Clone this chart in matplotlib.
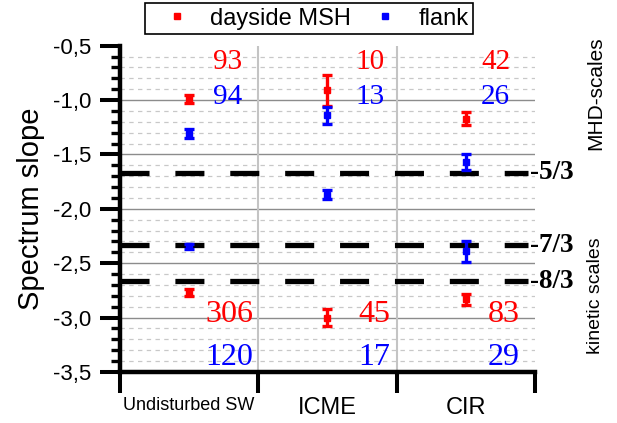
import matplotlib
matplotlib.use("Agg")
import matplotlib.pyplot as plt
from matplotlib.ticker import MultipleLocator, FixedLocator, FuncFormatter
from matplotlib.lines import Line2D

# --- data -------------------------------------------------------------
categories = ["Undisturbed SW", "ICME", "CIR"]

# MHD-scale spectral slopes
msh_mhd = [-0.99, -0.91, -1.17]
msh_mhd_err = [0.035, 0.14, 0.06]
flank_mhd = [-1.31, -1.14, -1.57]
flank_mhd_err = [0.04, 0.08, 0.07]

# kinetic-scale spectral slopes
msh_kin = [-2.77, -3.00, -2.83]
msh_kin_err = [0.03, 0.08, 0.05]
flank_kin = [-2.345, -1.87, -2.39]
flank_kin_err = [0.02, 0.04, 0.095]

# number of events in each group
n_msh_mhd = [93, 10, 42]
n_flank_mhd = [94, 13, 26]
n_msh_kin = [306, 45, 83]
n_flank_kin = [120, 17, 29]

# reference slopes
ref_slopes = [-5 / 3, -7 / 3, -8 / 3]
ref_labels = ["-5/3", "-7/3", "-8/3"]

RED = "#ff0000"
BLUE = "#0000ff"
SANS = ["Liberation Sans", "DejaVu Sans"]
SERIF = ["Liberation Serif", "DejaVu Serif"]

plt.rcParams["font.family"] = SANS

fig = plt.figure(figsize=(6.17, 4.23), dpi=100)
ax = fig.add_axes([0.1945, 0.1206, 0.6725, 0.7714])

ax.set_xlim(0, 3)
ax.set_ylim(-3.5, -0.5)

xc = [i + 0.5 for i in range(len(categories))]

# grid
for y in [-1.0, -1.5, -2.0, -2.5, -3.0]:
    ax.axhline(y, color="#8c8c8c", lw=1.0, zorder=1)
minor_y = [-0.5 - 0.1 * k for k in range(1, 30)]
for y in minor_y:
    if abs(round(y * 2) - y * 2) > 1e-6:
        ax.axhline(y, color="#c8c8c8", lw=0.9, ls=(0, (3.5, 3.5)), zorder=1)
for x in [1, 2]:
    ax.axvline(x, color="#c4c4c4", lw=1.5, zorder=1)

# reference slope lines
for s, lab in zip(ref_slopes, ref_labels):
    ax.plot([0, 2.95], [s, s], color="black", lw=3.8,
            ls=(0, (5.5, 4.9)), zorder=2, solid_capstyle="butt",
            dash_capstyle="butt")
    ax.text(2.965, s, lab, ha="left", va="center", fontsize=19.5,
            family=SERIF, weight="bold", color="black", clip_on=False)

# data points
eb = dict(fmt="s", ms=5, elinewidth=2.4, capsize=3.6, capthick=2.4, zorder=4)
ax.errorbar(xc, msh_mhd, yerr=msh_mhd_err, color=RED, **eb)
ax.errorbar(xc, flank_mhd, yerr=flank_mhd_err, color=BLUE, **eb)
ax.errorbar(xc, msh_kin, yerr=msh_kin_err, color=RED, **eb)
ax.errorbar(xc, flank_kin, yerr=flank_kin_err, color=BLUE, **eb)

# event counts
upper_x = [0.882, 1.916, 2.82]
lower_x = [0.962, 1.952, 2.892]
for i in range(len(categories)):
    ax.text(upper_x[i], -0.71, str(n_msh_mhd[i]), color=RED, ha="right",
            va="baseline", fontsize=21, family=SERIF, zorder=5)
    ax.text(upper_x[i], -1.035, str(n_flank_mhd[i]), color=BLUE, ha="right",
            va="baseline", fontsize=21, family=SERIF, zorder=5)
    ax.text(lower_x[i], -3.04, str(n_msh_kin[i]), color=RED, ha="right",
            va="baseline", fontsize=23, family=SERIF, zorder=5)
    ax.text(lower_x[i], -3.44, str(n_flank_kin[i]), color=BLUE, ha="right",
            va="baseline", fontsize=23, family=SERIF, zorder=5)

# spines and ticks
for side in ["top", "right"]:
    ax.spines[side].set_visible(False)
for side in ["left", "bottom"]:
    ax.spines[side].set_linewidth(3.2)

ax.yaxis.set_major_locator(MultipleLocator(0.5))
ax.yaxis.set_minor_locator(MultipleLocator(0.1))
ax.yaxis.set_major_formatter(FuncFormatter(lambda v, p: f"{v:.1f}".replace(".", ",")))
ax.tick_params(axis="y", which="major", length=14.4, width=2.9, pad=6,
               labelsize=16, direction="out")
ax.tick_params(axis="y", which="minor", length=6.5, width=2.4, direction="out")

ax.xaxis.set_major_locator(FixedLocator(xc))
ax.xaxis.set_minor_locator(FixedLocator([0, 1, 2, 3]))
ax.set_xticklabels(categories)
ax.tick_params(axis="x", which="major", length=0, pad=18, labelsize=17)
ax.tick_params(axis="x", which="minor", length=15, width=2.9, direction="out")
ax.get_xticklabels()[0].set_fontsize(13)

ax.set_ylabel("Spectrum slope", fontsize=21, labelpad=6)

# scale annotations
fig.text(0.965, 0.78, "MHD-scales", rotation=90, ha="center", va="center",
         fontsize=15)
fig.text(0.965, 0.30, "kinetic scales", rotation=90, ha="center", va="center",
         fontsize=14)

# legend
handles = [
    Line2D([], [], ls="none", marker="s", ms=5, color=RED),
    Line2D([], [], ls="none", marker="s", ms=5, color=BLUE),
]
leg = fig.legend(handles, ["dayside MSH", "flank"], loc="upper center",
                 bbox_to_anchor=(0.5008, 0.993), ncol=2, fontsize=17,
                 frameon=True, fancybox=False, edgecolor="black",
                 framealpha=1, borderpad=0.2, handlelength=2.3,
                 handletextpad=0.24, columnspacing=0.33, borderaxespad=0)
leg.get_frame().set_linewidth(1.2)

fig.savefig("out.png", dpi=100, facecolor="white")
